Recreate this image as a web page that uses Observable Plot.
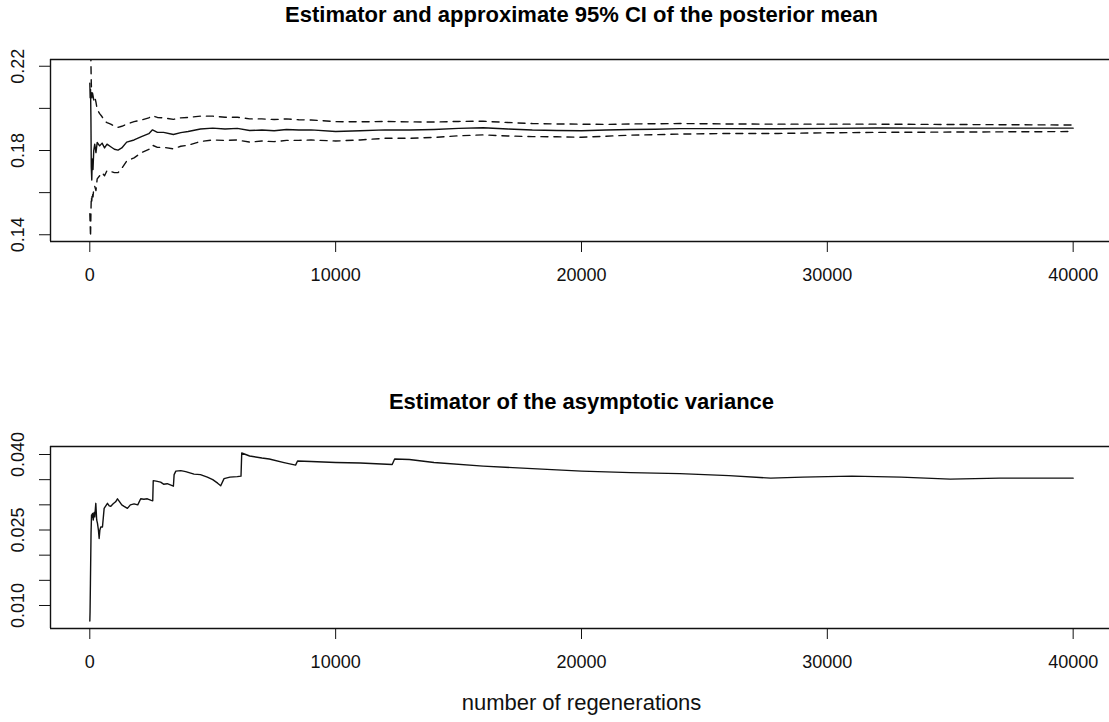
<!DOCTYPE html>
<html><head><meta charset="utf-8">
<script src="https://cdn.jsdelivr.net/npm/d3@7"></script>
<script src="https://cdn.jsdelivr.net/npm/@observablehq/plot@0.6"></script>
<style>
html,body{margin:0;padding:0;background:#fff;overflow:hidden;}
#wrap{position:relative;width:1109px;height:722px;}
#p1,#p2{position:absolute;left:0;}
#p1{top:0}
#p2{top:387px}
svg{display:block}
</style></head><body><div id="wrap"><div id="p1"></div><div id="p2"></div></div>
<script>
// ---- data ----
const iterX = [1, 15, 30, 45, 60, 80, 100, 130, 160, 200, 250, 300, 400, 500, 600, 700, 850, 1000, 1150, 1300, 1500, 1800, 2100, 2400, 2550, 2750, 3000, 3400, 3700, 4000, 4500, 5000, 5500, 6000, 6500, 7000, 7500, 8000, 8500, 9000, 10000, 11000, 12000, 13000, 14000, 15000, 16000, 17000, 18000, 19000, 20000, 21000, 22000, 23000, 24000, 26000, 28000, 30000, 32000, 34000, 36000, 38000, 40000];
const meanY = [0.212, 0.205, 0.209, 0.196, 0.172, 0.166, 0.176, 0.171, 0.180, 0.183, 0.179, 0.1838, 0.1822, 0.1835, 0.1812, 0.1830, 0.1818, 0.1806, 0.1802, 0.1812, 0.1840, 0.1850, 0.1866, 0.1880, 0.1898, 0.1886, 0.1886, 0.1876, 0.1885, 0.1890, 0.1902, 0.1906, 0.1902, 0.1905, 0.1895, 0.1897, 0.1894, 0.1900, 0.1897, 0.1898, 0.1890, 0.1894, 0.1898, 0.1897, 0.1900, 0.1905, 0.1908, 0.1902, 0.1897, 0.1895, 0.1894, 0.1897, 0.1900, 0.1901, 0.1904, 0.1904, 0.1903, 0.1905, 0.1907, 0.1906, 0.1906, 0.1906, 0.1906];
const upperY = [0.300, 0.260, 0.240, 0.222, 0.212, 0.205, 0.208, 0.206, 0.204, 0.2055, 0.2030, 0.1995, 0.1975, 0.1960, 0.1940, 0.1932, 0.1925, 0.1915, 0.1910, 0.1915, 0.1925, 0.1937, 0.1945, 0.1955, 0.1965, 0.1957, 0.1955, 0.1948, 0.1955, 0.1957, 0.1963, 0.1963, 0.1958, 0.1958, 0.1950, 0.1950, 0.1947, 0.1950, 0.1946, 0.1945, 0.1937, 0.1936, 0.1938, 0.1936, 0.1935, 0.1938, 0.1939, 0.1933, 0.1928, 0.1926, 0.1925, 0.1924, 0.1926, 0.1927, 0.1928, 0.1926, 0.1925, 0.1925, 0.1925, 0.1924, 0.1923, 0.1922, 0.1921];
const lowerY = [0.150, 0.145, 0.139, 0.150, 0.158, 0.156, 0.160, 0.158, 0.162, 0.163, 0.161, 0.1665, 0.1680, 0.1695, 0.1680, 0.1705, 0.1700, 0.1695, 0.1695, 0.1715, 0.1750, 0.1765, 0.1790, 0.1805, 0.1825, 0.1815, 0.1815, 0.1808, 0.1820, 0.1825, 0.1843, 0.1850, 0.1848, 0.1850, 0.1840, 0.1845, 0.1842, 0.1848, 0.1848, 0.1850, 0.1845, 0.1850, 0.1858, 0.1858, 0.1862, 0.1870, 0.1874, 0.1869, 0.1866, 0.1865, 0.1863, 0.1868, 0.1873, 0.1875, 0.1878, 0.1881, 0.1881, 0.1884, 0.1886, 0.1887, 0.1888, 0.1889, 0.1890];

const varX = [1, 10, 25, 50, 70, 90, 110, 140, 175, 200, 244, 280, 312, 350, 380, 410, 447, 515, 550, 583, 650, 718, 790, 854, 950, 1050, 1125, 1200, 1300, 1395, 1530, 1650, 1800, 1950, 2070, 2200, 2340, 2500, 2560, 2580, 2700, 2880, 3000, 3150, 3300, 3400, 3430, 3500, 3700, 3900, 4240, 4500, 4780, 5000, 5200, 5325, 5460, 5700, 6000, 6150, 6180, 6500, 7000, 7300, 7900, 8370, 8450, 9000, 10000, 11000, 12300, 12400, 13000, 14000, 16000, 18000, 20000, 22000, 24000, 26000, 27700, 29000, 31000, 33000, 35000, 37000, 40000];
const varY = [0.0069, 0.0087, 0.0144, 0.0243, 0.0280, 0.0275, 0.0283, 0.0270, 0.0285, 0.0276, 0.0303, 0.0270, 0.0263, 0.0250, 0.0233, 0.0250, 0.0256, 0.0256, 0.0275, 0.0293, 0.0298, 0.0303, 0.0298, 0.0297, 0.0302, 0.0306, 0.0312, 0.0307, 0.0300, 0.0297, 0.0293, 0.0300, 0.0302, 0.0300, 0.0312, 0.0311, 0.0312, 0.0309, 0.0308, 0.0348, 0.0347, 0.0345, 0.0341, 0.0342, 0.0339, 0.0337, 0.0360, 0.0367, 0.0368, 0.0366, 0.0361, 0.0360, 0.0355, 0.0350, 0.0343, 0.0338, 0.0352, 0.0355, 0.0356, 0.0357, 0.0403, 0.0397, 0.0393, 0.0391, 0.0384, 0.0379, 0.0387, 0.0386, 0.0384, 0.0383, 0.0380, 0.0391, 0.0390, 0.0384, 0.0377, 0.0372, 0.0367, 0.0364, 0.0362, 0.0358, 0.0353, 0.0355, 0.0357, 0.0355, 0.0351, 0.0353, 0.0353];

const xTicks = [0, 10000, 20000, 30000, 40000];
const topYTicks = [0.14, 0.16, 0.18, 0.20, 0.22];
const topYLabels = [0.14, 0.18, 0.22];
const botYTicks = [0.010, 0.015, 0.020, 0.025, 0.030, 0.035, 0.040];
const botYLabels = [0.010, 0.025, 0.040];
const topTitle = "Estimator and approximate 95% CI of the posterior mean";
const botTitle = "Estimator of the asymptotic variance";
const xLabel = "number of regenerations";

// ---- drawing ----
const font = "'Liberation Sans', Arial, Helvetica, sans-serif";
const xDomain = [-1599, 41600];
const xMid = (xDomain[0] + xDomain[1]) / 2;
const ink = "#111";

function panel({height, marginBottom, yDomain, yTicks, yLabels, yDigits, lines, title, xlab}) {
  const marks = [
    ...lines,
    Plot.ruleY([yDomain[0], yDomain[1]], {stroke: ink, strokeWidth: 1.4}),
    Plot.ruleX([xDomain[0]], {stroke: ink, strokeWidth: 1.4}),
    Plot.text(yLabels, {y: d => d, text: d => d.toFixed(yDigits), frameAnchor: "left", dx: -32,
      rotate: -90, textAnchor: "middle", lineAnchor: "middle", fontSize: 18, fill: ink}),
    Plot.text([title], {x: () => xMid, text: d => d, frameAnchor: "top", dy: -45,
      lineAnchor: "middle", fontSize: 22, fontWeight: "bold", fill: "#000"})
  ];
  if (xlab) marks.push(Plot.text([xlab], {x: () => xMid, text: d => d, frameAnchor: "bottom", dy: 74,
      lineAnchor: "middle", fontSize: 22, fill: ink}));
  return Plot.plot({
    width: 1109, height, marginLeft: 50, marginRight: 0, marginTop: 59, marginBottom,
    style: {fontFamily: font, fontSize: "18px", color: ink, background: "#fff", overflow: "visible"},
    x: {domain: xDomain, range: [50, 1112], ticks: xTicks, tickSize: 11, tickPadding: 16,
        tickFormat: d => String(d), label: null},
    y: {domain: yDomain, ticks: yTicks, tickSize: 11, tickFormat: () => "", label: null},
    marks
  });
}

const rows = iterX.map((x, i) => ({x, mean: meanY[i], upper: upperY[i], lower: lowerY[i]}));
const vrows = varX.map((x, i) => ({x, v: varY[i]}));

document.getElementById("p1").appendChild(panel({
  height: 361, marginBottom: 120,
  yDomain: [0.1368, 0.2232], yTicks: topYTicks, yLabels: topYLabels, yDigits: 2,
  title: topTitle,
  lines: [
    Plot.line(rows, {x: "x", y: "upper", stroke: ink, strokeWidth: 1.4, strokeDasharray: "7,6", clip: true}),
    Plot.line(rows, {x: "x", y: "lower", stroke: ink, strokeWidth: 1.4, strokeDasharray: "7,6", clip: true}),
    Plot.line(rows, {x: "x", y: "mean", stroke: ink, strokeWidth: 1.4, clip: true})
  ]
}));

document.getElementById("p2").appendChild(panel({
  height: 335, marginBottom: 94,
  yDomain: [0.00543, 0.04159], yTicks: botYTicks, yLabels: botYLabels, yDigits: 3,
  title: botTitle, xlab: xLabel,
  lines: [
    Plot.line(vrows, {x: "x", y: "v", stroke: ink, strokeWidth: 1.4, clip: true})
  ]
}));
</script></body></html>
